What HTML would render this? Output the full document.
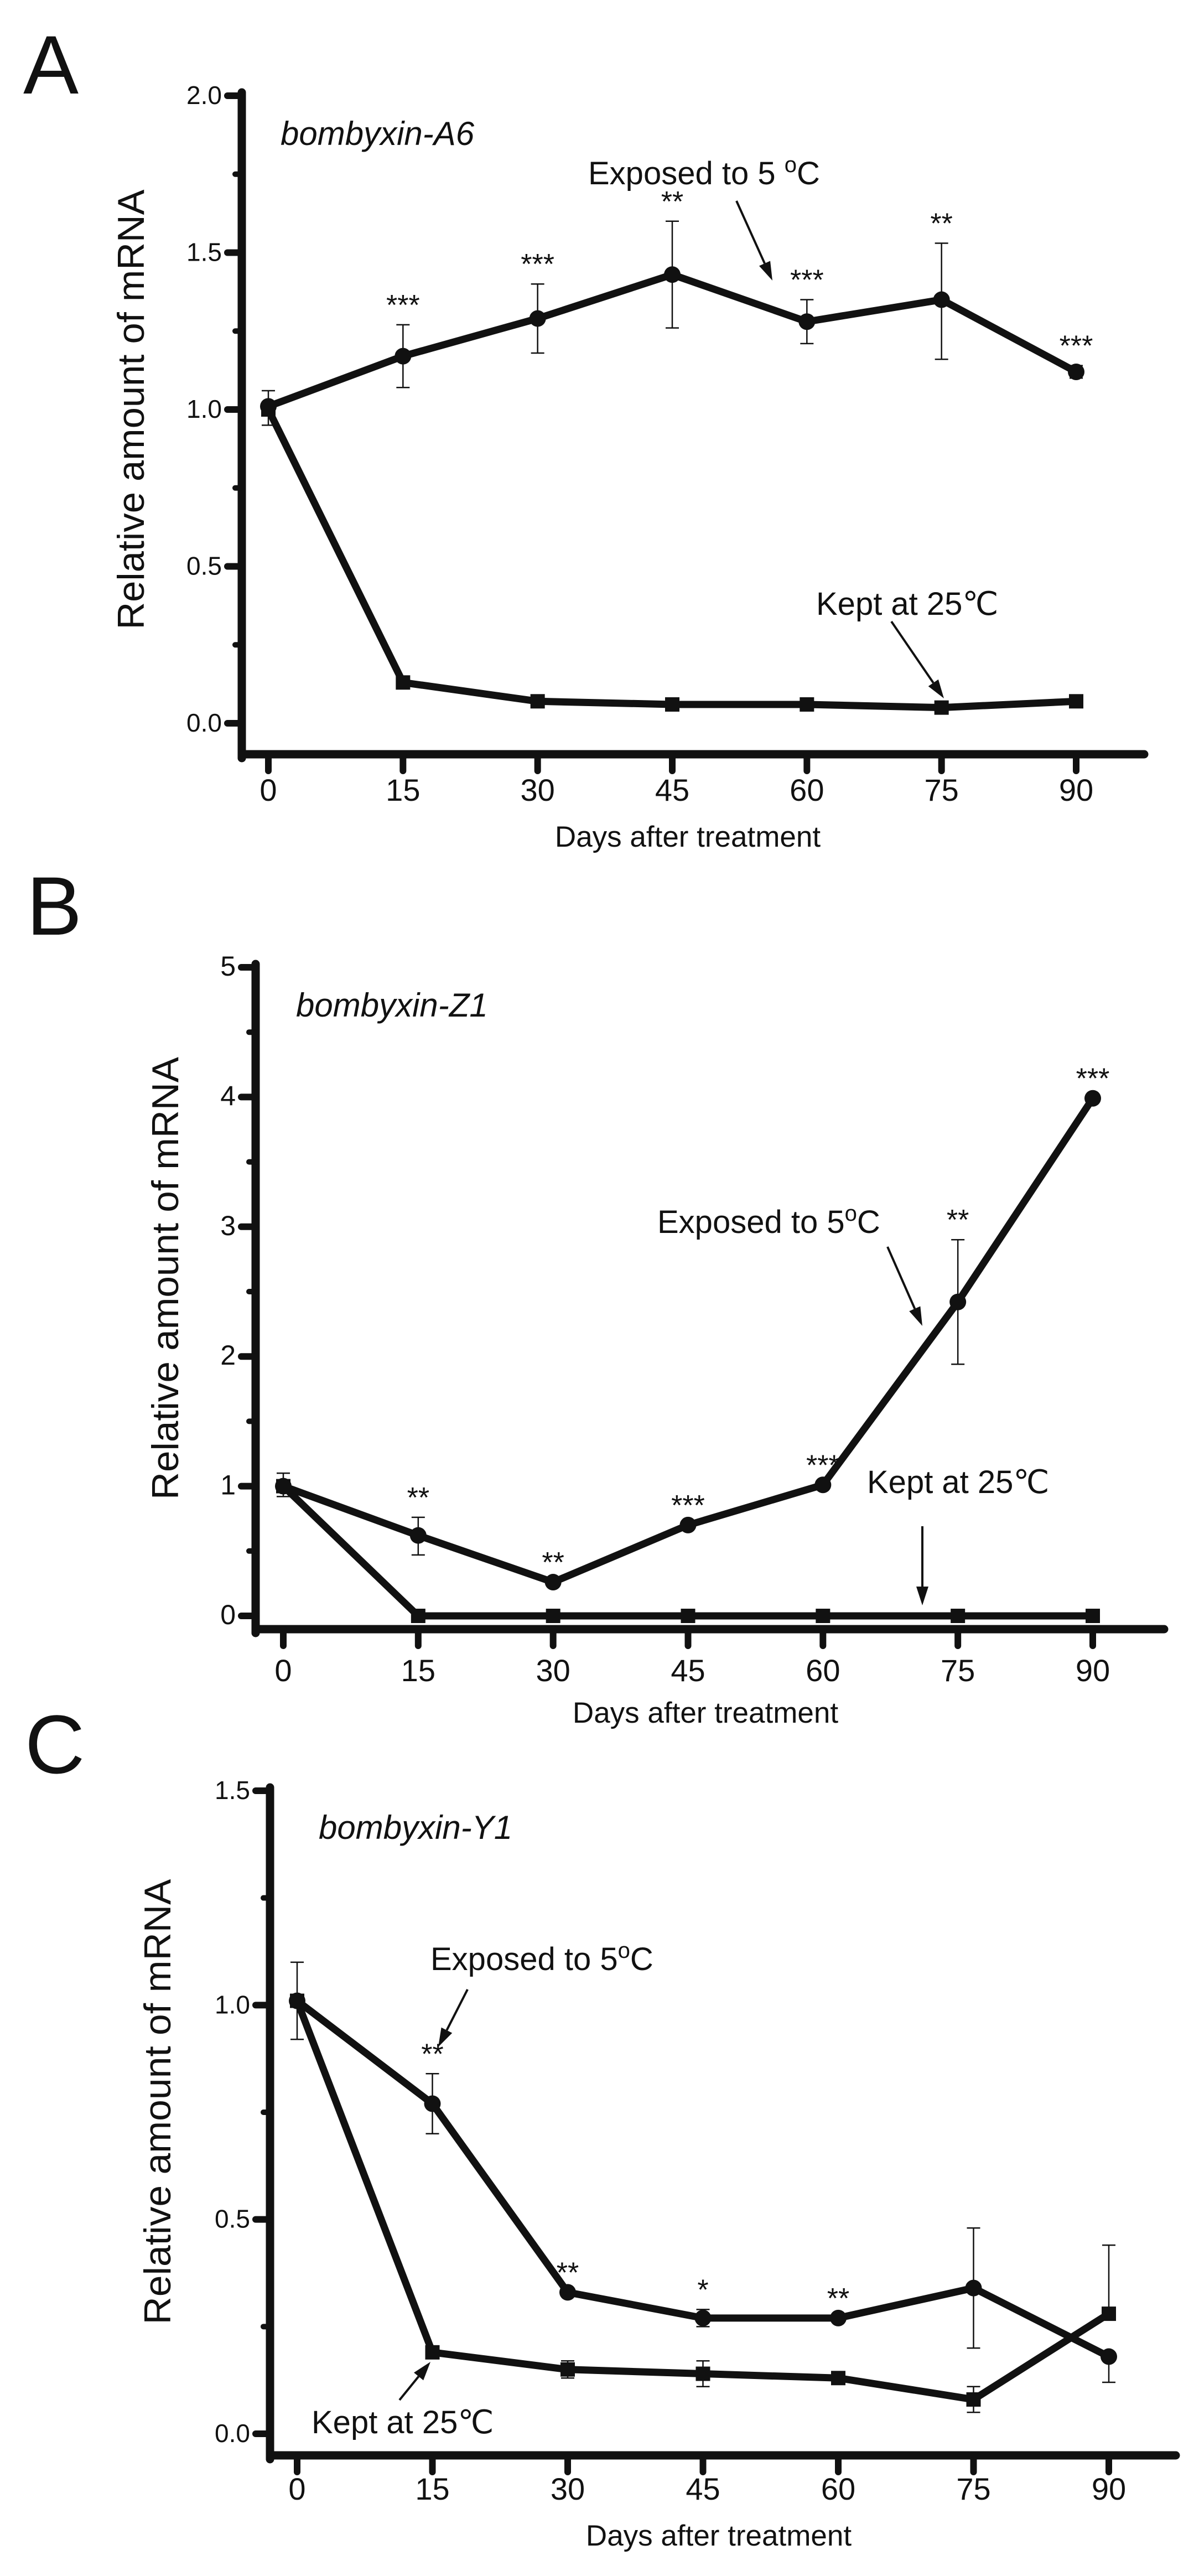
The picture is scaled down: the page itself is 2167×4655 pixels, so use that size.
<!DOCTYPE html>
<html><head><meta charset="utf-8"><style>
html,body{margin:0;padding:0;background:#fff;}
svg{display:block;}
text{font-family:"Liberation Sans",Arial,sans-serif;fill:#111;}
</style></head>
<body>
<svg id="fig" width="2167" height="4655" viewBox="0 0 2167 4655" xmlns="http://www.w3.org/2000/svg">
</svg>
<script>
// ---------- data ----------
const days = [0, 15, 30, 45, 60, 75, 90];
// Panel A: bombyxin-A6
const aYTicks = [0.0, 0.5, 1.0, 1.5, 2.0];
const aYTickLabels = ["0.0", "0.5", "1.0", "1.5", "2.0"];
const aExposed = [1.01, 1.17, 1.29, 1.43, 1.28, 1.35, 1.12];
const aExposedHi = [1.06, 1.27, 1.40, 1.60, 1.35, 1.53, 1.14];
const aExposedLo = [0.95, 1.07, 1.18, 1.26, 1.21, 1.16, 1.10];
const aKept = [1.0, 0.13, 0.07, 0.06, 0.06, 0.05, 0.07];
const aStars = ["", "***", "***", "**", "***", "**", "***"];
// Panel B: bombyxin-Z1
const bYTicks = [0, 1, 2, 3, 4, 5];
const bYTickLabels = ["0", "1", "2", "3", "4", "5"];
const bExposed = [1.0, 0.62, 0.26, 0.70, 1.01, 2.42, 3.99];
const bExposedHi = [1.10, 0.76, 0.26, 0.70, 1.01, 2.90, 3.99];
const bExposedLo = [0.92, 0.47, 0.26, 0.70, 1.01, 1.94, 3.99];
const bKept = [1.0, 0.0, 0.0, 0.0, 0.0, 0.0, 0.0];
const bStars = ["", "**", "**", "***", "***", "**", "***"];
// Panel C: bombyxin-Y1
const cYTicks = [0.0, 0.5, 1.0, 1.5];
const cYTickLabels = ["0.0", "0.5", "1.0", "1.5"];
const cExposed = [1.01, 0.77, 0.33, 0.27, 0.27, 0.34, 0.18];
const cExposedHi = [1.10, 0.84, 0.33, 0.29, 0.27, 0.48, 0.18];
const cExposedLo = [0.92, 0.70, 0.33, 0.25, 0.27, 0.20, 0.12];
const cKept = [1.01, 0.19, 0.15, 0.14, 0.13, 0.08, 0.28];
const cKeptHi = [1.01, 0.19, 0.17, 0.17, 0.13, 0.11, 0.44];
const cKeptLo = [1.01, 0.19, 0.13, 0.11, 0.13, 0.05, 0.28];
const cStars = ["", "**", "**", "*", "**", "", ""];

const NS = "http://www.w3.org/2000/svg";
const svg = document.getElementById("fig");
function mk(tag, attrs, parent) {
  const e = document.createElementNS(NS, tag);
  for (const k in attrs) e.setAttribute(k, attrs[k]);
  (parent || svg).appendChild(e);
  return e;
}
function txt(s, attrs, parent) { const t = mk("text", attrs, parent); t.textContent = s; return t; }

function panel(cfg) {
  const g = mk("g", {});
  
  
  const sx = d => cfg.x0 + (d - 0) * (cfg.x90 - cfg.x0) / 90;
  const sy = v => cfg.y0 + (v - cfg.yTicks[0]) * (cfg.yTop - cfg.y0) / (cfg.yTicks[cfg.yTicks.length - 1] - cfg.yTicks[0]);
  const L = txt(cfg.letter, {x: cfg.letterX, y: cfg.letterY, "font-size": 150}, g);
  
  
  const ya = mk("line", {x1: cfg.ax, y1: sy(cfg.yTicks[cfg.yTicks.length-1]) - 6, x2: cfg.ax, y2: cfg.axY + 7, stroke: "#111", "stroke-width": 15, "stroke-linecap": "round"}, g);
  
  
  const xa = mk("line", {x1: cfg.ax, y1: cfg.axY, x2: cfg.axEnd, y2: cfg.axY, stroke: "#111", "stroke-width": 15, "stroke-linecap": "round"}, g);
  
  
  cfg.yTicks.forEach((v, i) => {
    const t = mk("line", {x1: cfg.ax - 26, y1: sy(v), x2: cfg.ax, y2: sy(v), stroke: "#111", "stroke-width": 12, "stroke-linecap": "round"}, g);
    
    
    const lb = txt(cfg.yTickLabels[i], {x: cfg.ax - 36, y: sy(v) + 15, "font-size": cfg.yFont, "text-anchor": "end"}, g);
    
    
    if (i < cfg.yTicks.length - 1) {
      const mv = (v + cfg.yTicks[i + 1]) / 2;
      const m = mk("line", {x1: cfg.ax - 12, y1: sy(mv), x2: cfg.ax, y2: sy(mv), stroke: "#111", "stroke-width": 10, "stroke-linecap": "round"}, g);
      
      
    }
  });
  days.forEach(d => {
    const t = mk("line", {x1: sx(d), y1: cfg.axY, x2: sx(d), y2: cfg.axY + 30, stroke: "#111", "stroke-width": 12, "stroke-linecap": "round"}, g);
    
    
    const lb = txt(String(d), {x: sx(d), y: cfg.xLabY, "font-size": 56, "text-anchor": "middle"}, g);
    
    
  });
  const xt = txt("Days after treatment", {x: cfg.xTitleX, y: cfg.xTitleY, "font-size": 53, "text-anchor": "middle"}, g);
  
  
  const yt = txt("Relative amount of mRNA", {x: 0, y: 0, "font-size": 68, "text-anchor": "middle", textLength: cfg.yTitleLen, lengthAdjust: "spacingAndGlyphs", transform: `translate(${cfg.yTitleX},${cfg.yTitleY}) rotate(-90)`}, g);
  
  
  const gl = txt(cfg.gene, {x: cfg.geneX, y: cfg.geneY, "font-size": 60, "font-style": "italic"}, g);
  
  
  function ebar(i, hi, lo, nm) {
    const x = sx(days[i]);
    const e = mk("path", {d: `M${x},${sy(hi)}V${sy(lo)}M${x-12},${sy(hi)}H${x+12}M${x-12},${sy(lo)}H${x+12}`, stroke: "#111", "stroke-width": 2.5, fill: "none"}, g);
    
    
  }
  days.forEach((d, i) => ebar(i, cfg.exHi[i], cfg.exLo[i], 'error-bar-exposed'));
  if (cfg.kpHi) days.forEach((d, i) => ebar(i, cfg.kpHi[i], cfg.kpLo[i], 'error-bar-kept'));
  const kl = mk("polyline", {points: days.map((d, i) => sx(d) + "," + sy(cfg.kept[i])).join(" "), fill: "none", stroke: "#111", "stroke-width": 13, "stroke-linejoin": "round"}, g);
  
  
  const el = mk("polyline", {points: days.map((d, i) => sx(d) + "," + sy(cfg.exposed[i])).join(" "), fill: "none", stroke: "#111", "stroke-width": 13, "stroke-linejoin": "round"}, g);
  
  
  days.forEach((d, i) => {
    const s = mk("rect", {x: sx(d) - 13, y: sy(cfg.kept[i]) - 13, width: 26, height: 26, fill: "#111"}, g);
    
    
    const c = mk("circle", {cx: sx(d), cy: sy(cfg.exposed[i]), r: 15, fill: "#111"}, g);
    
    
    if (cfg.stars[i]) {
      const st = txt(cfg.stars[i], {x: sx(d), y: sy(cfg.exHi[i]) - 18, "font-size": 52, "text-anchor": "middle"}, g);
      
      
    }
  });
  cfg.notes.forEach(n => {
    const t = mk("text", {x: n.x, y: n.y, "font-size": 58}, g);
    
    
    t.innerHTML = n.html;
    const [x1, y1, x2, y2] = n.a;
    const dx = x2 - x1, dy = y2 - y1, len = Math.hypot(dx, dy);
    const ux = dx / len, uy = dy / len, hl = 34, hw = 11;
    const bx = x2 - ux * hl, by = y2 - uy * hl;
    const a = mk("line", {x1: x1, y1: y1, x2: bx, y2: by, stroke: "#111", "stroke-width": 4}, g);
    
    
    const h = mk("polygon", {points: `${x2},${y2} ${bx - uy * hw},${by + ux * hw} ${bx + uy * hw},${by - ux * hw}`, fill: "#111"}, g);
    
    
  });
}

const degC = '<tspan dy="-22" font-size="40">o</tspan><tspan dy="22">C</tspan>';

panel({name: "panel-a", letter: "A", letterX: 42, letterY: 169,
  x0: 485, x90: 1945, ax: 437, axY: 1363, axEnd: 2068,
  y0: 1307, yTop: 173, yTicks: aYTicks, yTickLabels: aYTickLabels, yFont: 46,
  xLabY: 1447, xTitleX: 1243, xTitleY: 1530,
  yTitleX: 260, yTitleY: 740, yTitleLen: 795,
  gene: "bombyxin-A6", geneX: 507, geneY: 262,
  exposed: aExposed, exHi: aExposedHi, exLo: aExposedLo, kept: aKept, stars: aStars,
  notes: [
    {name: "exposed-annotation", x: 1063, y: 333, html: "Exposed to 5 " + degC, a: [1331, 363, 1396, 507]},
    {name: "kept-annotation", x: 1475, y: 1111, html: "Kept at 25℃", a: [1611, 1123, 1706, 1262]}
  ]});

panel({name: "panel-b", letter: "B", letterX: 48, letterY: 1689,
  x0: 512, x90: 1975, ax: 462, axY: 2944, axEnd: 2104,
  y0: 2920, yTop: 1748, yTicks: bYTicks, yTickLabels: bYTickLabels, yFont: 50,
  xLabY: 3038, xTitleX: 1275, xTitleY: 3113,
  yTitleX: 322, yTitleY: 2310, yTitleLen: 800,
  gene: "bombyxin-Z1", geneX: 535, geneY: 1837,
  exposed: bExposed, exHi: bExposedHi, exLo: bExposedLo, kept: bKept, stars: bStars,
  notes: [
    {name: "exposed-annotation", x: 1188, y: 2228, html: "Exposed to 5" + degC, a: [1604, 2253, 1667, 2396]},
    {name: "kept-annotation", x: 1567, y: 2698, html: "Kept at 25℃", a: [1667, 2758, 1667, 2901]}
  ]});

panel({name: "panel-c", letter: "C", letterX: 45, letterY: 3204,
  x0: 537, x90: 2004, ax: 488, axY: 4437, axEnd: 2125,
  y0: 4398, yTop: 3236, yTicks: cYTicks, yTickLabels: cYTickLabels, yFont: 46,
  xLabY: 4517, xTitleX: 1299, xTitleY: 4600,
  yTitleX: 308, yTitleY: 3798, yTitleLen: 805,
  gene: "bombyxin-Y1", geneX: 576, geneY: 3323,
  exposed: cExposed, exHi: cExposedHi, exLo: cExposedLo, kept: cKept, kpHi: cKeptHi, kpLo: cKeptLo, stars: cStars,
  notes: [
    {name: "exposed-annotation", x: 778, y: 3560, html: "Exposed to 5" + degC, a: [845, 3595, 792, 3699]},
    {name: "kept-annotation", x: 563, y: 4397, html: "Kept at 25℃", a: [722, 4337, 778, 4268]}
  ]});
</script>
</body></html>
